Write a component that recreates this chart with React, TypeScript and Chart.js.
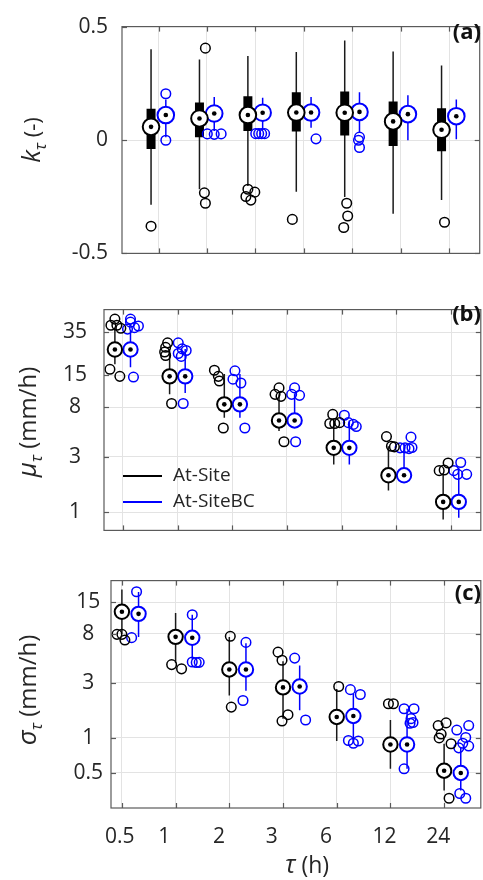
import React, { useEffect, useRef } from "react";
import { Chart, registerables } from "chart.js";
Chart.register(...registerables);

const FONT = "'Open Sans', 'DejaVu Sans', sans-serif";
const TXT = "#262626";
const GRID = "#e3e3e3";
const FRAME = "#5a5a5a";
const BLACK = "#000000";
const BLUE = "#0000ff";

// ---------- categories ----------
const durationLabels = ["0.5", "1", "2", "3", "6", "12", "24"];
const seriesNames = ["At-Site", "At-SiteBC"];

// ---------- (a) k_tau ----------
const kTicks = [-0.5, 0, 0.5];
const kSiteLo = [-0.286, -0.217, -0.203, -0.228, -0.251, -0.325, -0.265];
const kSiteQ1 = [-0.04, 0.0125, 0.04, 0.0375, 0.02, -0.026, -0.05];
const kSiteMed = [0.058, 0.095, 0.11, 0.121, 0.12, 0.082, 0.045];
const kSiteQ3 = [0.1375, 0.165, 0.193, 0.211, 0.214, 0.17, 0.14];
const kSiteHi = [0.4, 0.355, 0.37, 0.3875, 0.439, 0.39, 0.328];
const kSiteOut = [[-0.38], [0.405, -0.233, -0.279], [-0.217, -0.23, -0.249, -0.265], [-0.35], [-0.279, -0.335, -0.386], [], [-0.3625]];
const kSiteJit = [[0], [6, 5, 6], [0, 7, -2, 3], [-4], [2, 3, -1], [], [3]];

const kBcLo = [0.0125, 0.04, 0.047, 0.054, 0.033, -0.001, 0.003];
const kBcMed = [0.11, 0.117, 0.12, 0.121, 0.124, 0.114, 0.105];
const kBcHi = [0.179, 0.19, 0.186, 0.19, 0.21, 0.197, 0.179];
const kBcOut = [[0.204, -0.001], [0.027, 0.025, 0.027], [0.028, 0.028, 0.028, 0.028], [0.005], [0.0125, -0.001, -0.033], [], []];
const kBcJit = [[0, 0], [-7, 0, 7], [-7, -4, -1, 2], [5], [0, -1, 0], [], []];

// ---------- (b) mu_tau (mm/h) ----------
const muTicks = [1, 3, 8, 15, 35];
const muSiteLo = [18.7, 10.3, 6.5, 5.0, 2.57, 1.54, 0.87];
const muSiteMed = [25, 14.7, 8.45, 6.15, 3.58, 2.08, 1.23];
const muSiteHi = [38.5, 25.3, 15.4, 10.3, 6.15, 3.69, 2.15];
const muSiteOut = [[45.6, 40.4, 40.4, 38, 16.9, 14.7], [28.5, 26.1, 23.8, 22.2, 8.6], [16.6, 14.7, 13.4, 5.3], [11.7, 10.3, 9.9, 4.04], [6.93, 5.79, 5.79, 5.89], [4.47, 3.69, 3.65], [2.65, 2.28, 2.31]];
const muSiteJit = [[0, -4, 2, 6, -5, 5], [-2, -4, -5, -4, 2], [-10, -6, -5, -1], [0, -4, 2, 5], [-1, -4, 1, 6], [-2, 3, 6], [5, -4, 1]];

const muBcLo = [17.6, 10.6, 6.5, 5.3, 2.57, 1.79, 0.9];
const muBcMed = [25, 14.7, 8.45, 6.15, 3.58, 2.08, 1.23];
const muBcHi = [36.3, 25.3, 15.4, 10.3, 6.15, 3.92, 2.42];
const muBcOut = [[45.6, 42.9, 37.4, 38.5, 39.8, 14.5], [28.5, 25.3, 23.1, 24.5, 21.8, 8.6], [16.4, 13.9, 12.9, 5.3], [11.7, 10.3, 10.1, 4.04], [6.81, 5.89, 5.69, 5.45], [4.42, 3.58, 3.58, 3.52, 3.6], [2.68, 2.28, 2.12, 2.12]];
const muBcJit = [[0, 0, -3, 4, 8, 3], [-7, -3, -7, 1, -4, -2], [-5, -7, 1, 5], [0, -3, 5, 1], [-5, -1, 4, 7], [7, -4, 1, 5, 8], [2, -5, -1, 8]];

// ---------- (c) sigma_tau (mm/h) ----------
const sgTicks = [0.5, 1, 3, 8, 15];
const sgSiteLo = [8.0, 4.47, 2.33, 1.47, 0.94, 0.54, 0.35];
const sgSiteMed = [12.4, 7.52, 3.92, 2.74, 1.52, 0.877, 0.52];
const sgSiteHi = [19.3, 12.1, 7.5, 4.61, 2.65, 1.43, 0.89];
const sgSiteOut = [[7.9, 7.9, 7.05], [4.32, 3.97], [7.6, 1.85], [5.54, 4.71, 1.59, 1.4], [2.79], [1.98, 1.98], [1.28, 1.35, 1.08, 1.0, 0.89, 0.3]];
const sgSiteJit = [[-5, 0, 3], [-4, 6], [1, 2], [-5, -1, 5, -1], [2], [-2, 3], [-6, 2, -3, -5, 7, 5]];

const sgBcLo = [7.5, 4.77, 2.56, 1.74, 1.0, 0.54, 0.35];
const sgBcMed = [11.9, 7.38, 3.92, 2.79, 1.55, 0.877, 0.497];
const sgBcHi = [18.4, 11.7, 6.6, 4.24, 2.4, 1.79, 0.82];
const sgBcOut = [[18.5, 7.4], [11.7, 4.55, 4.5, 4.52], [6.73, 2.11], [4.92, 1.43], [2.62, 2.38, 0.95, 0.9, 0.94], [1.79, 1.79, 1.47, 1.34, 1.36, 0.54], [1.28, 1.17, 1.01, 0.9, 0.82, 0.85, 0.33, 0.3]];
const sgBcJit = [[-2, -7], [0, 0, 4, 7], [0, -3], [-5, 6], [-3, 7, -5, 0, 5], [-3, 7, 4, 3, 6, -3], [8, -4, 5, 2, -2, 8, -1, 5]];

// x positions of the bottom tick labels (in group units)
const xLabelPos = [-0.04, 0.79, 1.81, 2.79, 3.8, 4.89, 5.89];

type Stats = { lo: number[]; q1?: number[]; med: number[]; q3?: number[]; hi: number[]; out: number[][]; jit: number[][] };
type Sizes = { med: number; out: number; box: number };

function boxDatasets(s: Stats, color: string, off: number, ppu: number, sz: Sizes) {
  const xs = s.med.map((_, i) => i + off);
  const seg = (a: number[], b: number[]) =>
    xs.flatMap((x, i) => [{ x, y: a[i] }, { x, y: b[i] }, { x, y: null }]);
  const ds: any[] = [];
  ds.push({
    data: seg(s.lo, s.hi), borderColor: color === BLACK ? "#1a1a1a" : color, borderWidth: 1.5,
    pointRadius: 0, showLine: true, spanGaps: false, fill: false, order: 50,
  });
  if (s.q1 && s.q3) {
    ds.push({
      data: seg(s.q1, s.q3), borderColor: color, borderWidth: sz.box, borderCapStyle: "butt",
      pointRadius: 0, showLine: true, spanGaps: false, fill: false, order: 40,
    });
  }
  ds.push({
    data: xs.map((x, i) => ({ x, y: s.med[i] })), showLine: false, pointRadius: sz.med,
    pointBackgroundColor: "#ffffff", pointBorderColor: color, pointBorderWidth: 2, order: 30,
  });
  ds.push({
    data: xs.map((x, i) => ({ x, y: s.med[i] })), showLine: false, pointRadius: 2.3,
    pointBackgroundColor: "#000000", pointBorderColor: "#000000", pointBorderWidth: 0, order: 20,
  });
  ds.push({
    data: xs.flatMap((x, i) => s.out[i].map((v, j) => ({ x: x + s.jit[i][j] / ppu, y: v }))),
    showLine: false, pointRadius: sz.out, pointBackgroundColor: "rgba(0,0,0,0)",
    pointBorderColor: color, pointBorderWidth: 1.5, order: 10,
  });
  return ds;
}

type Part = { t: string; font: string; dy: number };

function drawParts(ctx: CanvasRenderingContext2D, parts: Part[], cx: number, cy: number, rotate: boolean) {
  ctx.save();
  ctx.translate(cx, cy);
  if (rotate) ctx.rotate(-Math.PI / 2);
  let total = 0;
  const widths = parts.map((p) => {
    ctx.font = p.font;
    const w = ctx.measureText(p.t).width;
    total += w;
    return w;
  });
  let x = -total / 2;
  ctx.textAlign = "left";
  ctx.textBaseline = "alphabetic";
  ctx.fillStyle = TXT;
  parts.forEach((p, i) => {
    ctx.font = p.font;
    ctx.fillText(p.t, x, p.dy);
    x += widths[i];
  });
  ctx.restore();
}

function decor(o: { label: string; labelY: number; yTitle: Part[]; yTitleX: number; yTitleY: number; extra?: (ctx: CanvasRenderingContext2D) => void }) {
  return {
    id: "decor",
    afterDraw(chart: any) {
      const { ctx, chartArea: a } = chart;
      ctx.save();
      ctx.strokeStyle = FRAME;
      ctx.lineWidth = 1.2;
      ctx.strokeRect(a.left, a.top, a.right - a.left, a.bottom - a.top);
      const line = (x1: number, y1: number, x2: number, y2: number) => {
        ctx.beginPath(); ctx.moveTo(x1, y1); ctx.lineTo(x2, y2); ctx.stroke();
      };
      const xs = chart.scales.x;
      for (const t of xs.ticks) {
        const px = Math.round(xs.getPixelForValue(t.value)) + 0.5;
        line(px, a.bottom, px, a.bottom - 5);
        line(px, a.top, px, a.top + 5);
      }
      const ys = chart.scales.y;
      for (const t of ys.ticks) {
        const py = Math.round(ys.getPixelForValue(t.value)) + 0.5;
        line(a.left, py, a.left + 5, py);
        line(a.right, py, a.right - 5, py);
      }
      ctx.fillStyle = "#111";
      ctx.font = `bold 22px ${FONT}`;
      ctx.textAlign = "right";
      ctx.textBaseline = "middle";
      ctx.fillText(o.label, 481, o.labelY);
      drawParts(ctx, o.yTitle, o.yTitleX, o.yTitleY, true);
      if (o.extra) o.extra(ctx);
      ctx.restore();
    },
  };
}

const groupTicks = () => durationLabels.map((_, i) => ({ value: i }));

function baseOptions(pad: { top: number; right: number; bottom: number }) {
  return {
    responsive: false,
    animation: false as const,
    events: [] as any[],
    layout: { padding: { left: 0, top: pad.top, right: pad.right, bottom: pad.bottom } },
    plugins: { legend: { display: false }, tooltip: { enabled: false } },
  };
}

function hiddenX(min: number, max: number) {
  return {
    type: "linear", min, max, position: "bottom",
    afterBuildTicks: (ax: any) => { ax.ticks = groupTicks(); },
    afterFit: (ax: any) => { ax.height = 0; },
    grid: { color: GRID, drawTicks: false, lineWidth: 1 },
    border: { display: false },
    ticks: { display: false },
  };
}

const CW = 490;

function configA() {
  const ppu = 49;
  const sz = { med: 8.3, out: 4.8, box: 9 };
  const datasets = [
    ...boxDatasets({ lo: kSiteLo, q1: kSiteQ1, med: kSiteMed, q3: kSiteQ3, hi: kSiteHi, out: kSiteOut, jit: kSiteJit }, BLACK, -0.155, ppu, sz),
    ...boxDatasets({ lo: kBcLo, med: kBcMed, hi: kBcHi, out: kBcOut, jit: kBcJit }, BLUE, 0.15, ppu, sz),
  ];
  return {
    type: "line",
    data: { datasets },
    options: {
      ...baseOptions({ top: 18, right: CW - 484, bottom: 280 - 258 }),
      scales: {
        x: hiddenX(-0.755, 6.633),
        y: {
          type: "linear", min: -0.5, max: 0.5,
          afterBuildTicks: (ax: any) => { ax.ticks = kTicks.map((v) => ({ value: v })); },
          afterFit: (ax: any) => { ax.width = 122; },
          grid: { color: GRID, drawTicks: false },
          border: { display: false },
          ticks: { font: { family: FONT, size: 21 }, color: TXT, padding: 14, callback: (v: any) => String(v) },
        },
      },
    },
    plugins: [decor({
      label: "(a)", labelY: 33, yTitleX: 40, yTitleY: 140,
      yTitle: [
        { t: "k", font: `italic 26px ${FONT}`, dy: 0 },
        { t: "\u03C4", font: `italic 17px ${FONT}`, dy: 6 },
        { t: " (-)", font: `22px ${FONT}`, dy: 0 },
      ],
    })],
  };
}

function configB() {
  const ppu = 55.17;
  const sz = { med: 7.2, out: 4.8, box: 9 };
  const datasets = [
    ...boxDatasets({ lo: muSiteLo, med: muSiteMed, hi: muSiteHi, out: muSiteOut, jit: muSiteJit }, BLACK, -0.145, ppu, sz),
    ...boxDatasets({ lo: muBcLo, med: muBcMed, hi: muBcHi, out: muBcOut, jit: muBcJit }, BLUE, 0.14, ppu, sz),
  ];
  return {
    type: "line",
    data: { datasets },
    options: {
      ...baseOptions({ top: 17, right: CW - 484, bottom: 280 - 257 }),
      scales: {
        x: hiddenX(-0.344, 6.543),
        y: {
          type: "logarithmic", min: 0.72, max: 55,
          afterBuildTicks: (ax: any) => { ax.ticks = muTicks.map((v) => ({ value: v })); },
          afterFit: (ax: any) => { ax.width = 104; },
          grid: { color: GRID, drawTicks: false },
          border: { display: false },
          ticks: { font: { family: FONT, size: 21 }, color: TXT, padding: 17, crossAlign: "center", callback: (v: any) => String(v) },
        },
      },
    },
    plugins: [decor({
      label: "(b)", labelY: 35, yTitleX: 36, yTitleY: 142,
      yTitle: [
        { t: "\u03BC", font: `italic 26px ${FONT}`, dy: 0 },
        { t: "\u03C4", font: `italic 17px ${FONT}`, dy: 6 },
        { t: " (mm/h)", font: `24px ${FONT}`, dy: 0 },
      ],
      extra: (ctx) => {
        ctx.lineWidth = 2;
        ctx.strokeStyle = BLACK;
        ctx.beginPath(); ctx.moveTo(123, 196); ctx.lineTo(162, 196); ctx.stroke();
        ctx.strokeStyle = BLUE;
        ctx.beginPath(); ctx.moveTo(123, 222); ctx.lineTo(162, 222); ctx.stroke();
        ctx.fillStyle = TXT;
        ctx.font = `19px ${FONT}`;
        ctx.textAlign = "left";
        ctx.textBaseline = "middle";
        ctx.fillText(seriesNames[0], 173, 196);
        ctx.fillText(seriesNames[1], 173, 222);
      },
    })],
  };
}

function configC() {
  const ppu = 54.17;
  const sz = { med: 7.2, out: 4.8, box: 9 };
  const datasets = [
    ...boxDatasets({ lo: sgSiteLo, med: sgSiteMed, hi: sgSiteHi, out: sgSiteOut, jit: sgSiteJit }, BLACK, 0, ppu, sz),
    ...boxDatasets({ lo: sgBcLo, med: sgBcMed, hi: sgBcHi, out: sgBcOut, jit: sgBcJit }, BLUE, 0.31, ppu, sz),
  ];
  const min = -0.203, max = 6.683;
  return {
    type: "line",
    data: { datasets },
    options: {
      ...baseOptions({ top: 16, right: CW - 484, bottom: 0 }),
      scales: {
        x: hiddenX(min, max),
        xl: {
          type: "linear", min, max, position: "bottom",
          afterBuildTicks: (ax: any) => { ax.ticks = xLabelPos.map((v) => ({ value: v })); },
          afterFit: (ax: any) => { ax.height = 320 - 248; },
          grid: { display: false, drawTicks: false },
          border: { display: false },
          ticks: {
            font: { family: FONT, size: 21 }, color: TXT, padding: 16, autoSkip: false, maxRotation: 0,
            callback: (_v: any, i: number) => durationLabels[i],
          },
        },
        y: {
          type: "logarithmic", min: 0.247, max: 23.1,
          afterBuildTicks: (ax: any) => { ax.ticks = sgTicks.map((v) => ({ value: v })); },
          afterFit: (ax: any) => { ax.width = 111; },
          grid: { color: GRID, drawTicks: false },
          border: { display: false },
          ticks: { font: { family: FONT, size: 21 }, color: TXT, padding: 8, crossAlign: "center", callback: (v: any) => String(v) },
        },
      },
    },
    plugins: [decor({
      label: "(c)", labelY: 34, yTitleX: 36, yTitleY: 130,
      yTitle: [
        { t: "\u03C3", font: `italic 26px ${FONT}`, dy: 0 },
        { t: "\u03C4", font: `italic 17px ${FONT}`, dy: 6 },
        { t: " (mm/h)", font: `24px ${FONT}`, dy: 0 },
      ],
      extra: (ctx) => {
        drawParts(ctx, [
          { t: "\u03C4", font: `italic 25px ${FONT}`, dy: 0 },
          { t: " (h)", font: `23px ${FONT}`, dy: 0 },
        ], 307, 313, false);
      },
    })],
  };
}

function Panel({ make, top, height }: { make: () => any; top: number; height: number }) {
  const ref = useRef<HTMLCanvasElement>(null);
  useEffect(() => {
    const chart = new Chart(ref.current as HTMLCanvasElement, make());
    return () => chart.destroy();
  }, [make]);
  return (
    <canvas
      ref={ref}
      width={CW}
      height={height}
      style={{ position: "absolute", left: 0, top, width: CW, height, display: "block" }}
    />
  );
}

export default function App() {
  return (
    <div style={{ position: "absolute", left: 0, top: 0, width: 483, height: 880, overflow: "hidden", background: "#fff" }}>
      <Panel make={configA} top={0} height={280} />
      <Panel make={configB} top={280} height={280} />
      <Panel make={configC} top={560} height={320} />
    </div>
  );
}
